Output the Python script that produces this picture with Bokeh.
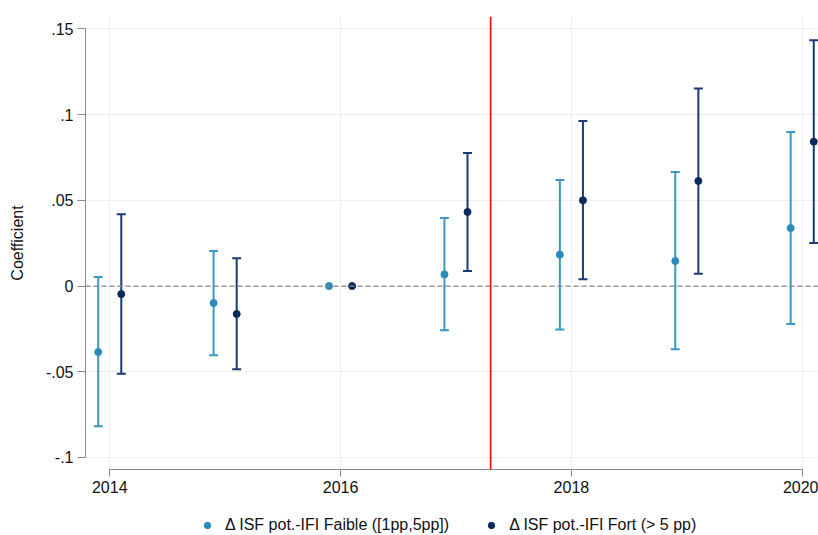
from bokeh.plotting import figure
from bokeh.layouts import column
from bokeh.models import (ColumnDataSource, Whisker, TeeHead, Span, Range1d,
                          FixedTicker, CustomJSTickFormatter, Legend, LegendItem)
from bokeh.embed import file_html
from bokeh.resources import INLINE

# ---- data ----
years = [2014, 2015, 2016, 2017, 2018, 2019, 2020]
faible_coef = [-0.0385, -0.0099, 0.0, 0.0068, 0.0183, 0.0146, 0.0338]
faible_lo = [-0.0818, -0.0403, 0.0, -0.0258, -0.0253, -0.0369, -0.0222]
faible_hi = [0.0053, 0.0205, 0.0, 0.0397, 0.0618, 0.0665, 0.0898]
fort_coef = [-0.0047, -0.0163, 0.0, 0.0432, 0.0500, 0.0613, 0.0842]
fort_lo = [-0.0511, -0.0486, 0.0, 0.0088, 0.0039, 0.0072, 0.0251]
fort_hi = [0.0418, 0.0162, 0.0, 0.0776, 0.0963, 0.1152, 0.1433]
treatment_x = 2017.3
x_ticks = [2014, 2016, 2018, 2020]
y_ticks = [-0.1, -0.05, 0.0, 0.05, 0.1, 0.15]
label_faible = "\u0394 ISF pot.-IFI Faible ([1pp,5pp])"
label_fort = "\u0394 ISF pot.-IFI Fort (> 5 pp)"

FONT = "Liberation Sans"
TXT = "#111111"
C_FAIBLE_LINE = "#3b98c4"
C_FAIBLE_PT = "#2a8bbb"
C_FORT_LINE = "#1b3b72"
C_FORT_PT = "#0b2a5c"
OFF = 0.1

p = figure(frame_width=733, frame_height=453, output_backend="svg", toolbar_location=None,
           x_range=Range1d(2013.79, 2020.141), y_range=Range1d(-0.107, 0.1572),
           min_border_left=85, min_border_right=0, min_border_top=16, min_border_bottom=32)
p.outline_line_color = None
p.background_fill_color = "white"
p.border_fill_color = "white"

# grids
p.grid.grid_line_color = "#eeeeee"
p.grid.grid_line_width = 1

# axes
p.xaxis.ticker = FixedTicker(ticks=x_ticks)
p.yaxis.ticker = FixedTicker(ticks=y_ticks)
p.yaxis.formatter = CustomJSTickFormatter(code="""
if (Math.abs(tick) < 1e-9) { return "0"; }
var s = parseFloat(tick.toFixed(3)).toString();
return s.replace("0.", ".");
""")
p.xaxis.bounds = (x_ticks[0], x_ticks[-1])
p.yaxis.bounds = (y_ticks[0], y_ticks[-1])
for ax in (p.xaxis, p.yaxis):
    ax.axis_line_color = "#8a8a8a"
    ax.major_tick_line_color = "#8a8a8a"
    ax.minor_tick_line_color = None
    ax.major_tick_in = 0
    ax.major_label_text_font = FONT
    ax.major_label_text_font_size = "16px"
    ax.major_label_text_color = TXT
p.xaxis.major_tick_out = 7
p.yaxis.major_tick_out = 8
p.yaxis.major_label_standoff = 4
p.xaxis.major_label_standoff = 4
p.yaxis.major_label_orientation = "horizontal"
p.yaxis.axis_label = "Coefficient"
p.yaxis.axis_label_text_font = FONT
p.yaxis.axis_label_text_font_size = "16px"
p.yaxis.axis_label_text_font_style = "normal"
p.yaxis.axis_label_text_color = TXT
p.yaxis.axis_label_standoff = 17

# reference lines
p.add_layout(Span(location=0, dimension="width", line_color="#888888",
                  line_dash="5 3", line_width=1.3))
p.add_layout(Span(location=treatment_x, dimension="height", line_color="#ff0000",
                  line_width=1.6))

def series(coef, lo, hi, offset, cline, cpt):
    xs = [y + offset for y in years]
    wx = [x for x, l, h in zip(xs, lo, hi) if h != l]
    wl = [l for l, h in zip(lo, hi) if h != l]
    wh = [h for l, h in zip(lo, hi) if h != l]
    wsrc = ColumnDataSource(dict(x=wx, lower=wl, upper=wh))
    w = Whisker(base="x", lower="lower", upper="upper", source=wsrc,
                dimension="height", line_color=cline, line_width=2,
                upper_head=TeeHead(size=9, line_color=cline, line_width=2),
                lower_head=TeeHead(size=9, line_color=cline, line_width=2))
    p.add_layout(w)
    src = ColumnDataSource(dict(x=xs, y=coef))
    p.scatter("x", "y", source=src, size=7, marker="circle",
              fill_color=cpt, line_color=cpt)
    return src

src1 = series(faible_coef, faible_lo, faible_hi, -OFF, C_FAIBLE_LINE, C_FAIBLE_PT)
src2 = series(fort_coef, fort_lo, fort_hi, OFF, C_FORT_LINE, C_FORT_PT)

# ---- legend strip below the plot (proxy renderers lie outside its view) ----
q = figure(width=818, height=34, output_backend="svg", toolbar_location=None,
           x_range=Range1d(0, 1), y_range=Range1d(0, 1),
           x_axis_location=None, y_axis_location=None, min_border=0)
q.outline_line_color = None
q.grid.visible = False
q.background_fill_color = "white"
q.border_fill_color = "white"
k1 = q.scatter("x", "y", source=src1, size=7, marker="circle",
               fill_color=C_FAIBLE_PT, line_color=C_FAIBLE_PT)
k2 = q.scatter("x", "y", source=src2, size=7, marker="circle",
               fill_color=C_FORT_PT, line_color=C_FORT_PT)
legend = Legend(items=[LegendItem(label=label_faible, renderers=[k1]),
                       LegendItem(label=label_fort, renderers=[k2])],
                orientation="horizontal", location=(114, 1),
                border_line_alpha=0, background_fill_alpha=0,
                label_text_font=FONT, label_text_font_size="16px",
                label_text_color=TXT, glyph_width=16, glyph_height=16,
                label_height=16, label_standoff=10, spacing=34, padding=0, margin=0)
q.add_layout(legend, "center")

layout = column(p, q, spacing=0)
open("out.html", "w").write(file_html(layout, INLINE))
